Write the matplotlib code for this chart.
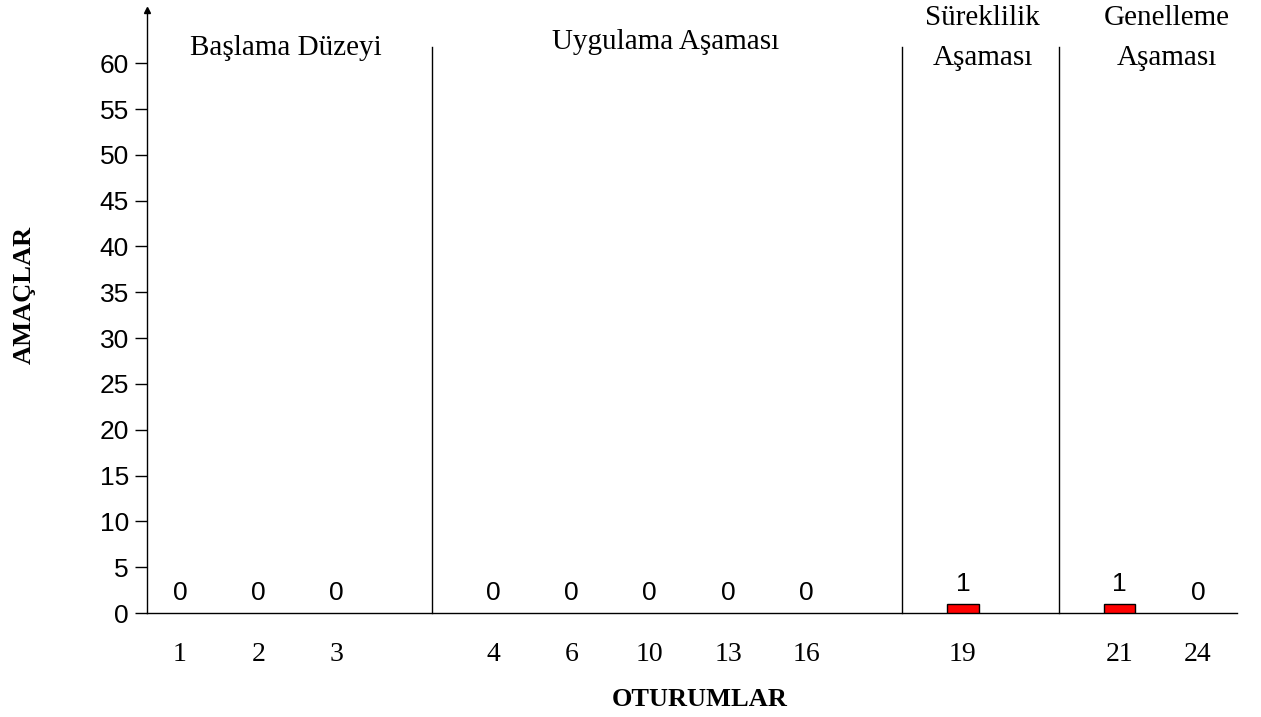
import matplotlib
matplotlib.use("Agg")
import matplotlib.pyplot as plt

# data
phase_names = ["Başlama Düzeyi", "Uygulama Aşaması", "Süreklilik\nAşaması", "Genelleme\nAşaması"]
phase_sessions = [[1, 2, 3], [4, 6, 10, 13, 16], [19], [21, 24]]
phase_values = [[0, 0, 0], [0, 0, 0, 0, 0], [1], [1, 0]]
y_ticks = list(range(0, 61, 5))

SERIF = ["Liberation Serif", "DejaVu Serif"]
SANS = ["Liberation Sans", "DejaVu Sans"]

# one empty slot between phases
positions, labels, values, dividers = [], [], [], []
slot = 0
for sessions, vals in zip(phase_sessions, phase_values):
    for s, v in zip(sessions, vals):
        positions.append(slot)
        labels.append(str(s))
        values.append(v)
        slot += 1
    dividers.append(slot - 1 + 1.22)
    slot += 1
dividers = dividers[:-1]

fig = plt.figure(figsize=(12.61, 7.17), dpi=100)
ax = fig.add_axes([0.1166, 0.145, 0.8644, 0.841])

ax.bar(positions, values, width=0.4, color="#ff0000", edgecolor="black",
       linewidth=[1.0 if v else 0 for v in values], zorder=3)
for x, v in zip(positions, values):
    ax.annotate(str(v), (x, v), xytext=(0, 9.5), textcoords="offset points",
                ha="center", va="baseline", fontsize=19, family=SANS)

for d in dividers:
    ax.plot([d, d], [0, 61.8], color="black", lw=1.0, clip_on=False)

# label placement: x in slots, baseline of last line in data units
text_x = [1.35, 6.2, 10.25, 12.6]
text_base = [60.9, 61.6, 59.8, 59.8]
for name, tx, tb in zip(phase_names, text_x, text_base):
    lines = name.split("\n")
    for i, line in enumerate(reversed(lines)):
        ax.text(tx, tb + i * 4.36, line, ha="center", va="baseline", fontsize=21,
                family=SERIF, clip_on=False)

ax.set_xlim(-0.42, 13.5)
ax.set_ylim(0, 65.8)
ax.set_xticks(positions)
ax.set_xticklabels(labels, family=SERIF, fontsize=20)
ax.tick_params(axis="x", length=0, pad=21)
ax.set_yticks(y_ticks)
ax.set_yticklabels([str(t) for t in y_ticks], family=SANS, fontsize=19)
ax.tick_params(axis="y", length=9, width=1.0, pad=4)

for side in ("top", "right"):
    ax.spines[side].set_visible(False)
ax.spines["left"].set_linewidth(1.0)
ax.spines["bottom"].set_linewidth(1.0)
ax.plot([0], [1], marker="^", color="black", markersize=5, transform=ax.transAxes, clip_on=False)

ax.set_xlabel("OTURUMLAR", family=SERIF, fontsize=19, fontweight="bold")
ax.xaxis.set_label_coords(0.507, -0.125)
ax.set_ylabel("AMAÇLAR", family=SERIF, fontsize=19, fontweight="bold")
ax.yaxis.set_label_coords(-0.102, 0.527)

fig.savefig("out.png", dpi=100)
